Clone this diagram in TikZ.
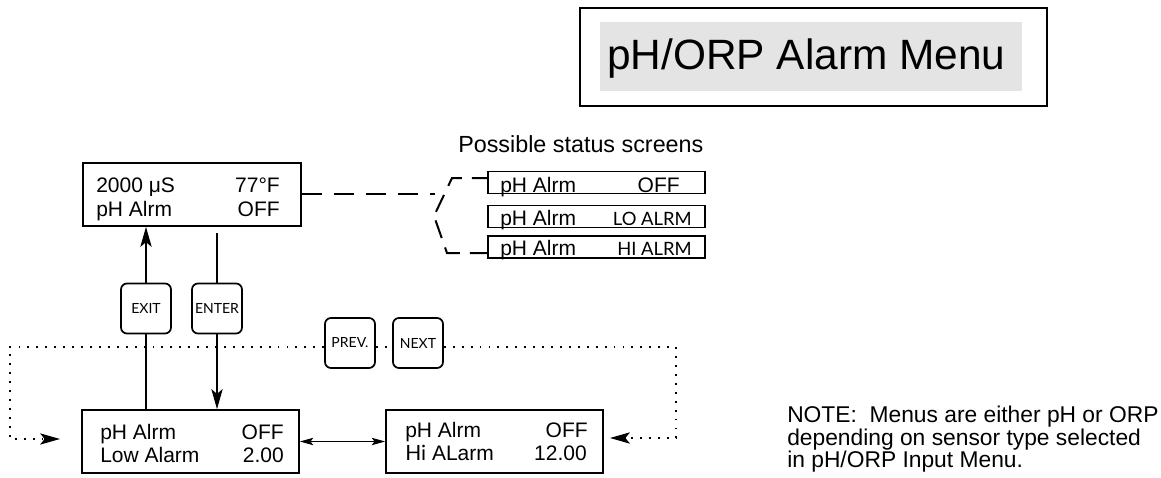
\documentclass[tikz,border=0pt]{standalone}
\usepackage{fontspec}
\setmainfont{Liberation Sans}
\newfontfamily\latofont{Lato}
\usetikzlibrary{arrows.meta}
\definecolor{titlegrey}{HTML}{E4E4E4}
\begin{document}
\begin{tikzpicture}[x=0.75pt,y=-0.75pt,
  box/.style={draw,line width=1.3pt,inner sep=0pt},
  lcdbox/.style={box,minimum width=162.75pt,minimum height=47.25pt},
  statbox/.style={box,minimum width=162.75pt,minimum height=16.5pt},
  keybox/.style={draw,line width=1.3pt,rounded corners=4.5pt,minimum width=37.5pt,minimum height=37.5pt,inner sep=0pt,font=\latofont\fontsize{10.5}{12}\selectfont},
  txt/.style={inner sep=0pt,font=\fontsize{15.75}{18}\selectfont},
  notetxt/.style={inner sep=0pt,font=\fontsize{17.1}{20}\selectfont},
  smallcaps/.style={inner sep=0pt,font=\latofont\fontsize{13.8}{15}\selectfont},
  conn/.style={line width=0.8pt},
  bigtip/.style={-{Stealth[length=15pt,width=8.5pt,inset=3.5pt]}},
  dotline/.style={line width=1.4pt,dash pattern=on 1.4pt off 5.3pt},
  dashline/.style={line width=1.5pt,dash pattern=on 15pt off 9pt},
  bracketline/.style={line width=1.5pt,dash pattern=on 14pt off 7.5pt,dash phase=18pt}]
\useasboundingbox (0,0) rectangle (1161,478);

% title
\node[draw,line width=1.3pt,minimum width=350.25pt,minimum height=73.5pt,inner sep=0pt] (titleframe) at (813.5,57) {};
\node[fill=titlegrey,minimum width=316.5pt,minimum height=51.75pt,inner sep=0pt] (titlefill) at (811,56.5) {};
\node[anchor=base west,inner sep=0pt,font=\fontsize{31.8}{36}\selectfont] (titletext) at (607,70) {pH/ORP Alarm Menu};

% status display
\node[box,minimum width=163.5pt,minimum height=47.25pt] (status) at (192,194.5) {};
\node[txt,anchor=base west] (st1) at (96,192) {2000 μS};
\node[txt,anchor=base east] (st2) at (280,192) {77°F};
\node[txt,anchor=base west] (st3) at (96,216) {pH Alrm};
\node[txt,anchor=base east] (st4) at (280,216) {OFF};

% possible status screens
\node[inner sep=0pt,anchor=base west,font=\fontsize{17.5}{20}\selectfont] (possible) at (458,152) {Possible status screens};
\node[statbox] (s1) at (596.5,182.5) {};
\node[statbox] (s2) at (596.5,216.5) {};
\node[statbox] (s3) at (596.5,247) {};
\node[txt,anchor=base west] (s1a) at (500,192) {pH Alrm};
\node[txt,anchor=base east] (s1b) at (680,192) {OFF};
\node[txt,anchor=base west] (s2a) at (500,225) {pH Alrm};
\node[smallcaps,anchor=base east] (s2b) at (692,225) {LO ALRM};
\node[txt,anchor=base west] (s3a) at (500,255) {pH Alrm};
\node[smallcaps,anchor=base east] (s3b) at (692,255) {HI ALRM};

\coordinate (dashend) at (435,194);
\coordinate (vertex) at (434,216);
\draw[dashline] (status.east |- dashend) -- (dashend);
\draw[bracketline] (vertex) -- (452,178) -- (s1.west |- 0,178);
\draw[bracketline] (vertex) -- (447,253) -- (s3.west |- 0,253);

% keys
\node[keybox] (exit) at (146,308.5) {EXIT};
\node[keybox] (enter) at (217,308.5) {ENTER};
\node[keybox] (prev) at (350,343) {PREV.};
\node[keybox] (next) at (418,343) {NEXT};

% lower displays
\node[lcdbox] (low) at (190.5,441.5) {};
\node[txt,anchor=base west] (l1) at (100,439) {pH Alrm};
\node[txt,anchor=base east] (l2) at (284,439) {OFF};
\node[txt,anchor=base west] (l3) at (100,462) {Low Alarm};
\node[txt,anchor=base east] (l4) at (284,462) {2.00};

\node[lcdbox] (hi) at (494.5,441.5) {};
\node[txt,anchor=base west] (h1) at (405,437) {pH Alrm};
\node[txt,anchor=base east] (h2) at (588,437) {OFF};
\node[txt,anchor=base west] (h3) at (405,460) {{\latofont Hi} ALarm};
\node[txt,anchor=base east] (h4) at (587,460) {12.00};

% exit / enter connectors
\draw[conn] (exit.south) -- (exit.south |- low.north);
\draw[conn,bigtip] (exit.north) -- (exit.north |- status.south);
\draw[conn] (enter.north) -- ([yshift=-4.5pt]enter.north |- status.south);
\draw[conn,bigtip] (enter.south) -- (enter.south |- low.north);

% between lower displays
\draw[conn,{Stealth[length=10pt,width=5.5pt,inset=2pt]}-{Stealth[length=10pt,width=5.5pt,inset=2pt]}] (low.east) -- (hi.west);

% dotted loop
\coordinate (dl) at (10,347);
\coordinate (dlb) at (10,439);
\coordinate (ltip) at (60,439);
\coordinate (dr) at (676,347);
\coordinate (drb) at (676,438);
\coordinate (rtip) at (610,438);
\draw[dotline] (prev.west |- dl) -- (dl) -- (dlb) -- ([xshift=-12pt]ltip);
\draw[conn,bigtip] ([xshift=-12pt]ltip) -- (ltip);
\draw[dotline] (prev.east |- dl) -- (next.west |- dl);
\draw[dotline] (next.east |- dl) -- (dr) -- (drb) -- ([xshift=12pt]rtip);
\draw[conn,bigtip] ([xshift=12pt]rtip) -- (rtip);

% note
\node[notetxt,anchor=base west] (n1) at (787,422) {NOTE:\ \ Menus are either pH or ORP};
\node[notetxt,anchor=base west] (n2) at (787,445) {depending on sensor type selected};
\node[notetxt,anchor=base west] (n3) at (787,467) {in pH/ORP Input Menu.};
\end{tikzpicture}
\end{document}
